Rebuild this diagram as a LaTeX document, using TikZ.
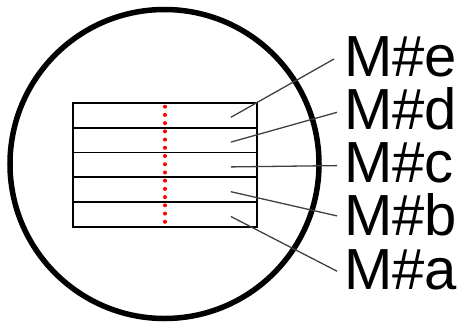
\documentclass[tikz,border=0pt]{standalone}
\usepackage{fontspec}
\setmainfont{Liberation Sans}
\usetikzlibrary{calc}
\begin{document}
\begin{tikzpicture}[x=1pt,y=-1pt,
  lens/.style={draw, circle, line width=5.5pt, minimum size=309pt, inner sep=0pt},
  layer/.style={draw, line width=1.8pt, minimum width=184pt, minimum height=24.8pt,
                inner sep=0pt, anchor=north west},
  tag/.style={font=\fontsize{58}{58}\selectfont, inner sep=0pt, anchor=base west},
  leader/.style={draw=black!75, line width=1.3pt},
  rdot/.style={circle, fill=red, inner sep=0pt, minimum size=4pt}]
\useasboundingbox (0,0) rectangle (460,322);

% outer circle
\node[lens] (lens) at (164.5,164) {};

% stacked layers, top (e) to bottom (a)
\node[layer] (e) at (72,102) {};
\node[layer] (d) at (72,126.8) {};
\node[layer] (c) at (72,151.6) {};
\node[layer] (b) at (72,176.4) {};
\node[layer] (a) at (72,201.2) {};

% red dotted centre line
\foreach \i in {0,...,14}
  \node[rdot] (dot\i) at (165,106.7+8.22*\i) {};

% labels
\node[tag] (le) at (344,76)    {M\#e};
\node[tag] (ld) at (344,129.3) {M\#d};
\node[tag] (lc) at (344,182.6) {M\#c};
\node[tag] (lb) at (344,235.9) {M\#b};
\node[tag] (la) at (344,289.2) {M\#a};

% leader line end points
\foreach \r in {a,b,c,d,e}
  \coordinate (s\r) at ($(\r.center)+(66,2)$);
\coordinate (te) at ($(le.base west)+(-10,-17)$);
\coordinate (td) at ($(ld.base west)+(-7,-17)$);
\coordinate (tc) at ($(lc.base west)+(-7,-17)$);
\coordinate (tb) at ($(lb.base west)+(-7,-20)$);
\coordinate (ta) at ($(la.base west)+(-7,-18)$);

% leader lines
\foreach \r in {a,b,c,d,e}
  \draw[leader] (s\r) -- (t\r);
\end{tikzpicture}
\end{document}
